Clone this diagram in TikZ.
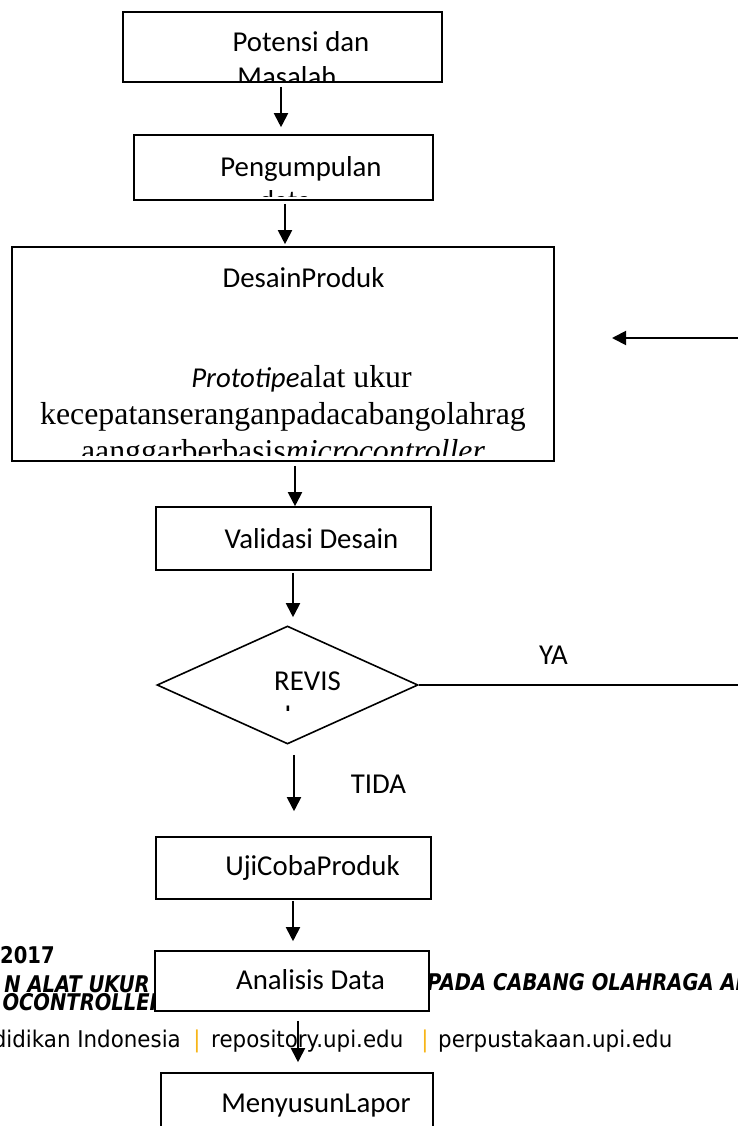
\documentclass[tikz,border=0pt]{standalone}
\usepackage{fontspec}
\setmainfont{Carlito}
\newfontfamily\tnr{Liberation Serif}
\newfontfamily\ftfam[FakeStretch=0.93]{DejaVu Sans}
\newfontfamily\ftbfam[FakeStretch=0.85]{DejaVu Sans}
\usetikzlibrary{arrows.meta,shapes.geometric}
\definecolor{upigold}{HTML}{F7B518}
\tikzset{
  box/.style={draw, rectangle, line width=1.6pt, fill=white, inner sep=0pt},
  dia/.style={draw, diamond, line width=1.6pt, fill=white, inner sep=0pt},
  arr/.style={line width=1.9pt, -{Triangle[width=14pt,length=14pt]}},
  thinln/.style={line width=1.3pt},
  lab/.style={inner sep=0pt, anchor=base, font=\fontsize{28.8}{34}\selectfont},
  serifbig/.style={inner sep=0pt, anchor=base, font=\tnr\fontsize{31.8}{38}\selectfont},
  ftr/.style={inner sep=0pt, font=\ftfam\fontsize{23}{27}\selectfont},
  ftb/.style={inner sep=0pt, font=\ftbfam\bfseries\fontsize{23}{27}\selectfont},
  ftbi/.style={inner sep=0pt, font=\ftbfam\bfseries\itshape\fontsize{23}{27}\selectfont},
}
\begin{document}
\begin{tikzpicture}[x=1pt,y=-1pt]
\useasboundingbox (0,0) rectangle (738,1126);
\clip (0,0) rectangle (738,1126);
\fill[white] (0,0) rectangle (738,1126);
% footer text (partly hidden behind the box)
\node[ftb, anchor=base west] (yr) at (0,963) {2017};
\node[ftbi, anchor=base east] (t1) at (150,992) {N ALAT UKUR};
\node[ftbi, anchor=base west] (t2) at (427,990) {PADA CABANG OLAHRAGA ANGGAR};
\node[ftbi, anchor=base east] (t3) at (165,1010) {OCONTROLLER};
\node[ftr, anchor=base east] (f1) at (181,1047) {didikan Indonesia};
\node[ftr, anchor=base, text=upigold] (s1) at (197,1047) {|};
\node[ftr, anchor=base west] (f2) at (211,1047) {repository.upi.edu};
\node[ftr, anchor=base, text=upigold] (s2) at (425,1047) {|};
\node[ftr, anchor=base west] (f3) at (438,1047) {perpustakaan.upi.edu};
% boxes
\node[box, minimum width=319pt, minimum height=70pt] (b1) at (282.5,47) {};
\node[box, minimum width=299pt, minimum height=65pt] (b2) at (283.5,167.5) {};
\node[box, minimum width=542pt, minimum height=214pt] (b3) at (283,354) {};
\node[box, minimum width=275pt, minimum height=63pt] (b4) at (293.5,538.5) {};
\node[dia, minimum width=261pt, minimum height=118pt] (d) at (287.5,685) {};
\node[box, minimum width=275pt, minimum height=62pt] (b5) at (293.5,868) {};
\node[box, minimum width=274pt, minimum height=60pt] (b6) at (292,981) {};
\node[box, minimum width=272pt, minimum height=80pt] (b7) at (297,1113) {};
% box texts (clipped like the original text boxes)
\begin{scope}
  \clip (123,12) rectangle (442,81);
  \node[lab] (p1) at (301,52) {Potensi dan};
  \node[lab] (p2) at (287,87) {Masalah};
\end{scope}
\begin{scope}
  \clip (134,135) rectangle (433,196);
  \node[lab] (p3) at (301,176) {Pengumpulan};
  \node[lab] (p4) at (285,211) {data};
\end{scope}
\begin{scope}
  \clip (12,247) rectangle (554,455);
  \node[lab] (p5) at (303.5,287) {DesainProduk};
  \node[lab] (p6) at (301.5,387) {\itshape Prototipe\upshape{\tnr\fontsize{31.8}{38}\selectfont alat ukur}};
  \node[serifbig] (p7) at (283,424) {kecepatanseranganpadacabangolahrag};
  \node[serifbig] (p8) at (283,461) {aanggarberbasis\textit{microcontroller}};
\end{scope}
\node[lab] (p9) at (311.5,548) {Validasi Desain};
\begin{scope}
  \clip (157,625) rectangle (418,710);
  \node[lab] (p10) at (307.5,690) {REVIS};
  \node[lab] (p11) at (288,724.5) {I};
\end{scope}
\node[lab] (p12) at (312.5,875) {UjiCobaProduk};
\node[lab] (p13) at (310.5,989) {Analisis Data};
\node[lab] (p14) at (316,1112) {MenyusunLapor};
% labels
\node[lab] (ya) at (553.5,664) {YA};
\node[lab] (tida) at (378.5,793) {TIDA};
% connectors
\draw[arr] ([xshift=-1.5pt,yshift=-4pt]b1.south) -- ([xshift=-2.5pt,yshift=7pt]b2.north);
\draw[arr] ([xshift=1.5pt,yshift=-3pt]b2.south) -- ([xshift=2pt,yshift=2pt]b3.north);
\draw[arr] ([xshift=12pt,yshift=-4pt]b3.south) -- ([xshift=1.5pt]b4.north);
\draw[arr] ([xshift=-0.5pt,yshift=-2pt]b4.south) -- ([xshift=5.5pt,yshift=8pt]d.north);
\draw[arr] ([xshift=6.5pt,yshift=-10pt]d.south) -- ([xshift=0.5pt,yshift=25pt]b5.north);
\draw[arr] ([xshift=-0.5pt,yshift=-1pt]b5.south) -- ([xshift=1pt,yshift=9pt]b6.north);
\draw[arr] ([xshift=6pt,yshift=-9pt]b6.south) -- ([xshift=1pt,yshift=10pt]b7.north);
% feedback loop (runs outside the page on the right)
\coordinate (r1) at (760,685);
\coordinate (r2) at (760,338);
\coordinate (fb) at (612,338);
\draw[thinln] (d.east) -- (r1) -- (r2);
\draw[arr] (r2) -- (fb);
\end{tikzpicture}
\end{document}
